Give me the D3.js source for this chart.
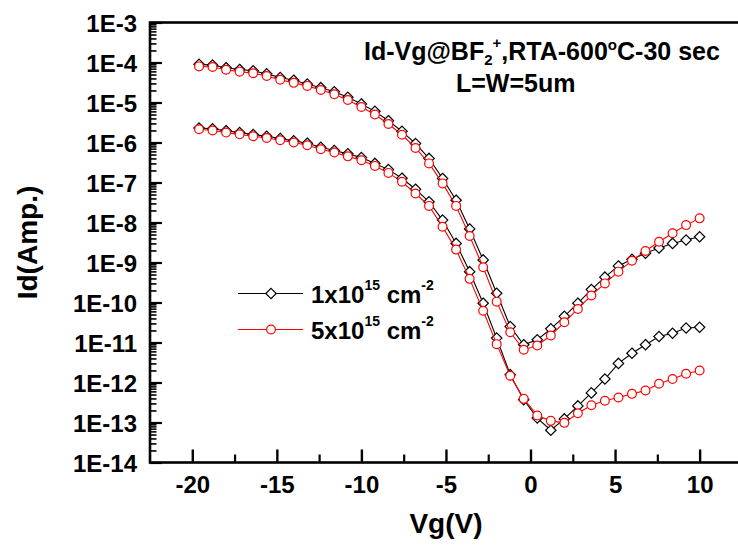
<!DOCTYPE html>
<html><head><meta charset="utf-8">
<script src="https://cdn.jsdelivr.net/npm/d3@7"></script>
<style>
body{margin:0;background:#fff}
svg{display:block}
text{font-family:Arial,"Liberation Sans",sans-serif;font-weight:bold;fill:#000}
</style>
</head><body>
<svg id="chart" width="738" height="545"></svg>
<script>
// ---- data ----
const vg = [-19.6,-18.8,-18,-17.2,-16.4,-15.6,-14.8,-14,-13.2,-12.4,-11.6,-10.8,-10,-9.2,-8.4,-7.6,-6.8,-6,-5.2,-4.4,-3.6,-2.8,-2,-1.2,-0.4,0.4,1.2,2,2.8,3.6,4.4,5.2,6,6.8,7.6,8.4,9.2,10];
const idHigh_1e15 = [9.0e-5,8.6e-5,7.4e-5,6.7e-5,6.2e-5,5.2e-5,4.2e-5,3.6e-5,2.9e-5,2.35e-5,1.85e-5,1.35e-5,9.2e-6,6.0e-6,3.5e-6,1.9e-6,9.4e-7,4.0e-7,1.26e-7,3.6e-8,6.9e-9,1.16e-9,1.7e-10,2.5e-11,8.8e-12,1.17e-11,2.2e-11,4.5e-11,9.6e-11,2.1e-10,4.3e-10,8.2e-10,1.2e-9,1.7e-9,2.3e-9,3.0e-9,3.65e-9,4.4e-9];
const idHigh_5e15 = [8.0e-5,7.7e-5,6.6e-5,5.9e-5,5.4e-5,4.6e-5,3.7e-5,3.1e-5,2.6e-5,2.05e-5,1.6e-5,1.15e-5,7.7e-6,5.0e-6,2.9e-6,1.56e-6,7.3e-7,3.0e-7,9.5e-8,2.6e-8,4.6e-9,7.6e-10,1.05e-10,1.8e-11,6.6e-12,8.4e-12,1.5e-11,3.2e-11,6.9e-11,1.5e-10,3.0e-10,5.9e-10,1.11e-9,1.94e-9,3.3e-9,5.4e-9,8.6e-9,1.27e-8];
const idLow_1e15 = [2.3e-6,2.2e-6,1.97e-6,1.77e-6,1.58e-6,1.43e-6,1.26e-6,1.1e-6,9.6e-7,7.6e-7,6.3e-7,5.2e-7,4.2e-7,3.0e-7,2.1e-7,1.28e-7,6.8e-8,3.3e-8,1.15e-8,3.0e-9,5.9e-10,9.6e-11,1.29e-11,1.57e-12,3.7e-13,1.29e-13,6.4e-14,1.23e-13,2.6e-13,5.5e-13,1.22e-12,3.0e-12,5.4e-12,8.8e-12,1.41e-11,1.7e-11,2.3e-11,2.4e-11];
const idLow_5e15 = [2.14e-6,2.0e-6,1.77e-6,1.6e-6,1.43e-6,1.3e-6,1.14e-6,1.0e-6,8.5e-7,6.8e-7,5.6e-7,4.5e-7,3.6e-7,2.6e-7,1.74e-7,1.04e-7,5.3e-8,2.6e-8,7.8e-9,2.1e-9,3.9e-10,6.2e-11,9.1e-12,1.48e-12,3.9e-13,1.5e-13,1.1e-13,9.8e-14,1.7e-13,2.7e-13,3.5e-13,4.2e-13,5.2e-13,6.3e-13,9.3e-13,1.22e-12,1.66e-12,2.0e-12];
const xTicks = [-20,-15,-10,-5,0,5,10];
const xMinorTicks = [-17.5,-12.5,-7.5,-2.5,2.5,7.5];
const yTicks = [1e-3,1e-4,1e-5,1e-6,1e-7,1e-8,1e-9,1e-10,1e-11,1e-12,1e-13,1e-14];
const legendLabels = ["1x10", "5x10"];

// ---- scales ----
const svg = d3.select("#chart");
const x = d3.scaleLinear().domain([-22.5, 12.5]).range([150, 741.9]);
const y = d3.scaleLog().domain([1e-14, 1e-3]).range([462.5, 22.5]);

// minor y ticks
const yMinor = [];
yTicks.forEach(t => { if (t < 1e-3) for (let m = 2; m <= 9; m++) yMinor.push(t * m); });

// frame
svg.append("rect").attr("x", x.range()[0]).attr("y", y.range()[1])
  .attr("width", x.range()[1] - x.range()[0]).attr("height", y.range()[0] - y.range()[1])
  .attr("fill", "none").attr("stroke", "#000").attr("stroke-width", 2.6);

// y axis
const yAxis = svg.append("g").attr("transform", `translate(${x.range()[0]},0)`)
  .call(d3.axisLeft(y).tickValues(yTicks).tickSizeInner(-12).tickSizeOuter(0).tickPadding(13)
    .tickFormat(d => "1E" + Math.round(Math.log10(d))));
yAxis.select(".domain").remove();
yAxis.selectAll("line").attr("stroke-width", 2.2);
yAxis.selectAll("text").attr("font-size", 24).attr("dy", "0.36em");
const yAxisMinor = svg.append("g").attr("transform", `translate(${x.range()[0]},0)`)
  .call(d3.axisLeft(y).tickValues(yMinor).tickSizeInner(-6.5).tickSizeOuter(0).tickFormat(""));
yAxisMinor.select(".domain").remove();
yAxisMinor.selectAll("line").attr("stroke-width", 1.6);

// x axis
const xAxis = svg.append("g").attr("transform", `translate(0,${y.range()[0]})`)
  .call(d3.axisBottom(x).tickValues(xTicks).tickSizeInner(-13).tickSizeOuter(0).tickPadding(13)
    .tickFormat(d => String(d)));
xAxis.select(".domain").remove();
xAxis.selectAll("line").attr("stroke-width", 2.4);
xAxis.selectAll("text").attr("font-size", 24);
const xAxisMinor = svg.append("g").attr("transform", `translate(0,${y.range()[0]})`)
  .call(d3.axisBottom(x).tickValues(xMinorTicks).tickSizeInner(-8).tickSizeOuter(0).tickFormat(""));
xAxisMinor.select(".domain").remove();
xAxisMinor.selectAll("line").attr("stroke-width", 2.2);
svg.selectAll(".tick text").attr("font-family", "Arial, 'Liberation Sans', sans-serif").attr("font-weight", "bold").attr("fill", "#000");

// axis titles
svg.append("text").attr("x", (x.range()[0] + x.range()[1]) / 2).attr("y", 533)
  .attr("text-anchor", "middle").attr("font-size", 28).text("Vg(V)");
svg.append("text").attr("transform", `translate(37,${(y.range()[0] + y.range()[1]) / 2}) rotate(-90)`)
  .attr("text-anchor", "middle").attr("font-size", 28).text("Id(Amp.)");

// series
const diamond = r => `M0,${-r}L${r},0L0,${r}L${-r},0Z`;
const line = d3.line().x(d => x(d[0])).y(d => y(d[1]));
const series = [
  {vals: idHigh_1e15, color: "#000", marker: "diamond"},
  {vals: idLow_1e15, color: "#000", marker: "diamond"},
  {vals: idHigh_5e15, color: "#ff0000", marker: "circle"},
  {vals: idLow_5e15, color: "#ff0000", marker: "circle"}
];
series.forEach(s => {
  const pts = vg.map((v, i) => [v, s.vals[i]]);
  const g = svg.append("g");
  g.append("path").attr("d", line(pts)).attr("fill", "none").attr("stroke", s.color).attr("stroke-width", 1.1);
  const m = g.selectAll(".m").data(pts).enter();
  if (s.marker === "diamond") {
    m.append("path").attr("d", diamond(5.2))
      .attr("transform", d => `translate(${x(d[0])},${y(d[1])})`)
      .attr("fill", "#fff").attr("stroke", s.color).attr("stroke-width", 1.2);
  } else {
    m.append("circle").attr("cx", d => x(d[0])).attr("cy", d => y(d[1])).attr("r", 4.4)
      .attr("fill", "#fff").attr("stroke", s.color).attr("stroke-width", 1.2);
  }
});

// legend
const leg = [{label: legendLabels[0], color: "#000", marker: "diamond", y: 293.5},
             {label: legendLabels[1], color: "#ff0000", marker: "circle", y: 329.5}];
leg.forEach(l => {
  svg.append("line").attr("x1", 238).attr("x2", 303).attr("y1", l.y).attr("y2", l.y)
    .attr("stroke", l.color).attr("stroke-width", 1.1);
  if (l.marker === "diamond") {
    svg.append("path").attr("d", diamond(5.2)).attr("transform", `translate(271,${l.y})`)
      .attr("fill", "#fff").attr("stroke", l.color).attr("stroke-width", 1.2);
  } else {
    svg.append("circle").attr("cx", 271).attr("cy", l.y).attr("r", 4.4)
      .attr("fill", "#fff").attr("stroke", l.color).attr("stroke-width", 1.2);
  }
  const t = svg.append("text").attr("x", 311).attr("y", l.y + 9).attr("font-size", 24);
  t.append("tspan").text(l.label);
  t.append("tspan").attr("font-size", 14).attr("dy", -13).text("15");
  t.append("tspan").attr("dy", 13).text(" cm");
  t.append("tspan").attr("font-size", 14).attr("dy", -13).text("-2");
});

// title
const t1 = svg.append("text").attr("x", 364).attr("y", 60).attr("font-size", 25);
t1.append("tspan").text("Id-Vg@BF");
t1.append("tspan").attr("font-size", 15).attr("dy", 5).text("2");
t1.append("tspan").attr("font-size", 15).attr("dy", -17).text("+");
t1.append("tspan").attr("dy", 12).text(",RTA-600");
t1.append("tspan").attr("font-size", 15).attr("dy", -10).text("o");
t1.append("tspan").attr("dy", 10).text("C-30 sec");
svg.append("text").attr("x", 456).attr("y", 92).attr("font-size", 25).text("L=W=5um");
</script>
</body></html>
